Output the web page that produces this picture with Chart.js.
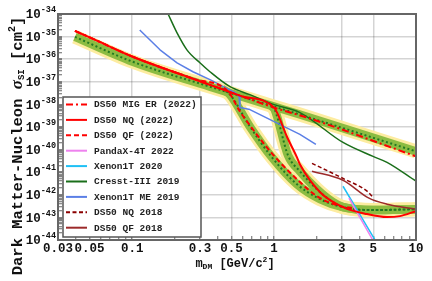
<!DOCTYPE html>
<html><head><meta charset="utf-8">
<script src="https://cdn.jsdelivr.net/npm/chart.js@4.4.1/dist/chart.umd.min.js"></script>
<style>html,body{margin:0;padding:0;background:#fff;overflow:hidden}#wrap{width:432px;height:281px}</style>
</head><body><div id="wrap"><canvas id="c" width="432" height="281"></canvas></div>
<script>
// ---------- axis ticks ----------
const xTickValues = [0.03, 0.05, 0.1, 0.3, 0.5, 1, 3, 5, 10];
const xTickLabels = ['0.03', '0.05', '0.1', '0.3', '0.5', '1', '3', '5', '10'];
const xMinorTicks = [0.04, 0.06, 0.07, 0.08, 0.09, 0.2, 0.4, 0.6, 0.7, 0.8, 0.9, 2, 4, 6, 7, 8, 9];
const yTickExponents = [-44, -43, -42, -41, -40, -39, -38, -37, -36, -35, -34];
const yMinorMultipliers = [2, 3, 4, 5, 6, 7, 8, 9];

// ---------- limit curves (mass GeV/c^2, sigma cm^2) ----------
const migEr22Mass  = [0.0395, 0.053, 0.101, 0.268, 0.575, 1.0, 1.79, 10];
const migEr22Sigma = [1.78e-35, 7.9e-36, 1.28e-36, 1.37e-37, 2.44e-38, 7.2e-39, 2.37e-39, 5.0e-41];

const nq22Mass  = [0.0395, 0.053, 0.101, 0.268, 0.575, 1.0, 1.05, 1.23, 1.45, 1.52, 2.11, 3.06, 4.52, 6.25, 7.71, 10];
const nq22Sigma = [1.78e-35, 7.9e-36, 1.28e-36, 1.37e-37, 2.44e-38, 7.2e-39, 4.35e-39, 3.81e-40, 4.53e-41, 2.23e-41, 1.3e-42, 2.84e-43, 1.4e-43, 1.03e-43, 1.14e-43, 1.9e-43];

const qf22Mass  = [0.0395, 0.053, 0.101, 0.268, 0.473, 0.575, 0.71, 0.89, 1.10, 1.45, 2.0, 2.91, 3.6];
const qf22Sigma = [1.78e-35, 7.9e-36, 1.28e-36, 1.37e-37, 3.77e-38, 4.82e-39, 7.76e-40, 1.25e-40, 2.73e-41, 4.86e-42, 8.67e-43, 3.15e-43, 2.57e-43];

const pandax22Mass  = [3.37, 5.14];
const pandax22Sigma = [7.08e-43, 6.7e-45];

const xenon20Mass  = [3.06, 5.4];
const xenon20Sigma = [2.39e-42, 6.0e-45];

const cresst19Mass  = [0.179, 0.207, 0.243, 0.30, 0.353, 0.489, 0.675, 1.0, 1.52, 3.06, 4.98, 6.25, 10];
const cresst19Sigma = [1.0e-34, 1.46e-35, 2.6e-36, 6.93e-37, 2.79e-37, 6.08e-38, 2.7e-38, 9.8e-39, 4.36e-39, 2.07e-40, 5.0e-41, 2.73e-41, 3.98e-42];

const xenonMe19Mass  = [0.113, 0.157, 0.207, 0.268, 0.353, 0.53, 0.566, 0.575, 0.675, 1.52, 1.97];
const xenonMe19Sigma = [1.97e-35, 2.6e-36, 6.93e-37, 2.79e-37, 1.24e-37, 3.31e-38, 2.21e-38, 7.23e-39, 5.9e-39, 4.68e-40, 1.69e-40];

const nq18Mass  = [1.85, 3.06, 4.52, 4.9];
const nq18Sigma = [2.47e-41, 5.3e-42, 1.45e-42, 8.67e-43];

const qf18Mass  = [1.85, 3.06, 4.66, 6.25, 10];
const qf18Sigma = [1.1e-41, 4.4e-42, 7.08e-43, 3.85e-43, 2.32e-43];

// ---------- expected sensitivity medians (bands drawn around them) ----------
const expMigMass  = [0.0395, 0.101, 0.353, 1.0, 1.52, 10];
const expMigSigma = [9.7e-36, 7.67e-37, 6.08e-38, 8.0e-39, 3.56e-39, 8.3e-41];

const expQfMass  = [0.429, 0.489, 0.675, 0.966, 1.45, 2.11, 3.06, 4.98, 10];
const expQfSigma = [4.97e-38, 2.7e-38, 1.05e-39, 4.53e-41, 2.93e-42, 6.4e-43, 2.84e-43, 2.1e-43, 2.32e-43];

const expNqMass  = [0.97, 1.01, 1.254, 1.52, 2.0, 2.6, 3.06, 4.98, 10];
const expNqSigma = [8.0e-39, 5.9e-39, 5.55e-41, 1.1e-41, 1.77e-42, 4.72e-43, 2.84e-43, 2.1e-43, 2.32e-43];

// ---------- build ----------
const pts = (m, s) => m.map((x, i) => ({ x: x, y: s[i] }));
const MONO = '"Liberation Mono", "DejaVu Sans Mono", monospace';
const YELLOW = 'rgb(253,236,160)', GREEN = 'rgb(140,188,66)', MED = 'rgb(34,122,34)';

function line(label, m, s, color, width, dash, order, legendRow, tension) {
  return {
    label: label, data: pts(m, s), borderColor: color, backgroundColor: color,
    borderWidth: width, borderDash: dash || [], pointRadius: 0, fill: false,
    order: order, legendRow: legendRow,
    tension: tension === undefined ? 0 : tension,
    cubicInterpolationMode: tension === undefined ? 'monotone' : 'default',
    borderJoinStyle: 'round'
  };
}
const bands = [
  [expMigMass, expMigSigma], [expQfMass, expQfSigma], [expNqMass, expNqSigma]
];
const datasets = [
  line('DS50 MIG ER (2022)', migEr22Mass, migEr22Sigma, '#ff0000', 2, [7, 3, 2, 3], 3, 0),
  line('DS50 NQ (2022)', nq22Mass, nq22Sigma, '#ff0000', 2, [], 1, 1),
  line('DS50 QF (2022)', qf22Mass, qf22Sigma, '#ff0000', 2, [5, 3], 2, 2),
  line('PandaX-4T 2022', pandax22Mass, pandax22Sigma, '#ee82ee', 1.5, [], 4, 3),
  line('Xenon1T 2020', xenon20Mass, xenon20Sigma, '#1ec0f5', 1.5, [], 4, 4),
  line('Cresst-III 2019', cresst19Mass, cresst19Sigma, '#1a6e1a', 1.5, [], 4, 5),
  line('Xenon1T ME 2019', xenonMe19Mass, xenonMe19Sigma, '#5b7fe6', 1.5, [], 4, 6, 0),
  line('DS50 NQ 2018', nq18Mass, nq18Sigma, '#8b0000', 1.5, [4, 2.5], 4, 7),
  line('DS50 QF 2018', qf18Mass, qf18Sigma, '#9c2a2a', 1.5, [], 4, 8)
];
bands.forEach((b, i) => {
  datasets.push(line('median ' + i, b[0], b[1], MED, 2, [2, 2.5], 10));
  datasets.push(line('1 sigma ' + i, b[0], b[1], GREEN, 8.5, [], 20));
  datasets.push(line('2 sigma ' + i, b[0], b[1], YELLOW, 14, [], 30));
});

const isLabeledX = v => xTickValues.some(t => Math.abs(v / t - 1) < 1e-6);

function drawRich(ctx, parts, cx, cy) {
  let total = 0;
  parts.forEach(p => { ctx.font = p.font; p.w = ctx.measureText(p.t).width; total += p.w; });
  let x = cx - total / 2;
  ctx.textAlign = 'left'; ctx.textBaseline = 'middle';
  parts.forEach(p => { ctx.font = p.font; ctx.fillText(p.t, x, cy + (p.dy || 0)); x += p.w; });
}

const decor = {
  id: 'decor',
  afterDraw(chart) {
    const ctx = chart.ctx, a = chart.chartArea, ys = chart.scales.y;
    ctx.save();
    // frame
    ctx.strokeStyle = '#666'; ctx.lineWidth = 2; ctx.setLineDash([]);
    ctx.strokeRect(a.left, a.top, a.right - a.left, a.bottom - a.top);
    // y tick labels 10^n
    ctx.fillStyle = '#111'; ctx.textAlign = 'left'; ctx.textBaseline = 'middle';
    yTickExponents.forEach(e => {
      const py = ys.getPixelForValue(Math.pow(10, e));
      const sup = String(e);
      ctx.font = 'bold 8.5px ' + MONO;
      const w2 = ctx.measureText(sup).width;
      const right = a.left - 2;
      ctx.fillText(sup, right - w2, py - 4);
      ctx.font = 'bold 12.5px ' + MONO;
      const w1 = ctx.measureText('10').width;
      ctx.fillText('10', right - w2 - w1, py + 1);
    });
    // y title
    ctx.save();
    ctx.translate(18, 146); ctx.rotate(-Math.PI / 2);
    drawRich(ctx, [
      { t: 'Dark Matter-Nucleon ', font: 'bold 15.5px ' + MONO },
      { t: 'σ', font: 'bold italic 17px "Liberation Serif", serif' },
      { t: 'SI', font: 'bold 9px ' + MONO, dy: 4 },
      { t: ' [cm', font: 'bold 15.5px ' + MONO },
      { t: '2', font: 'bold 10px ' + MONO, dy: -6 },
      { t: ']', font: 'bold 15.5px ' + MONO }
    ], 0, 0);
    ctx.restore();
    // x title
    drawRich(ctx, [
      { t: 'm', font: 'bold 12px ' + MONO },
      { t: 'DM', font: 'bold 8px ' + MONO, dy: 3 },
      { t: ' [GeV/c', font: 'bold 12px ' + MONO },
      { t: '2', font: 'bold 8px ' + MONO, dy: -4 },
      { t: ']', font: 'bold 12px ' + MONO }
    ], 235, 264);
    // legend
    const L = { x: 63, y: 97, w: 138, h: 140 };
    ctx.fillStyle = '#fff'; ctx.fillRect(L.x, L.y, L.w, L.h);
    ctx.strokeStyle = '#555'; ctx.lineWidth = 1.5; ctx.strokeRect(L.x, L.y, L.w, L.h);
    const entries = chart.data.datasets.filter(d => d.legendRow !== undefined)
      .sort((p, q) => p.legendRow - q.legendRow);
    entries.forEach((d, i) => {
      const cy = 104.5 + i * 15.4;
      ctx.strokeStyle = d.borderColor; ctx.lineWidth = 2;
      ctx.setLineDash(d.borderDash || []);
      ctx.beginPath(); ctx.moveTo(66, cy); ctx.lineTo(87, cy); ctx.stroke();
      ctx.setLineDash([]);
      ctx.fillStyle = '#222'; ctx.font = 'bold 9.5px ' + MONO;
      ctx.textAlign = 'left'; ctx.textBaseline = 'middle';
      ctx.fillText(d.label, 94, cy + 0.5);
    });
    ctx.restore();
  }
};

new Chart(document.getElementById('c'), {
  type: 'line',
  data: { datasets: datasets },
  plugins: [decor],
  options: {
    responsive: false, animation: false, devicePixelRatio: 1,
    layout: { padding: { top: 14, right: 16, left: 0, bottom: 0 } },
    plugins: { legend: { display: false }, tooltip: { enabled: false } },
    scales: {
      x: {
        type: 'logarithmic', min: 0.03, max: 10,
        afterBuildTicks: sc => { sc.ticks = xTickValues.concat(xMinorTicks).sort((p, q) => p - q).map(v => ({ value: v })); },
        afterFit: sc => { sc.height = 41; },
        border: { display: false },
        grid: {
          color: c => (c.tick && isLabeledX(c.tick.value) && c.tick.value > 0.031 && c.tick.value < 9.9) ? 'rgba(0,0,0,0.17)' : 'rgba(0,0,0,0)',
          lineWidth: 1.5, drawTicks: true, tickLength: -4, tickColor: '#666', tickWidth: 1
        },
        ticks: {
          autoSkip: false, maxRotation: 0, padding: 5, color: '#111',
          font: { family: MONO, size: 12.5, weight: 'bold' },
          callback: v => { const i = xTickValues.findIndex(t => Math.abs(v / t - 1) < 1e-6); return i >= 0 ? xTickLabels[i] : ''; }
        }
      },
      y: {
        type: 'logarithmic', min: 1e-44, max: 1e-34,
        afterBuildTicks: sc => {
          const t = [];
          yTickExponents.forEach(e => {
            t.push({ value: Math.pow(10, e) });
            if (e < -34) yMinorMultipliers.forEach(k => t.push({ value: k * Math.pow(10, e) }));
          });
          sc.ticks = t;
        },
        afterFit: sc => { sc.width = 58; },
        border: { display: false },
        grid: {
          color: c => {
            if (!c.tick) return 'rgba(0,0,0,0)';
            const l = Math.log10(c.tick.value);
            return Math.abs(l - Math.round(l)) < 1e-6 ? 'rgba(0,0,0,0.17)' : 'rgba(0,0,0,0)';
          },
          lineWidth: 1.5, drawTicks: true, tickLength: -4, tickColor: '#666', tickWidth: 1
        },
        ticks: { display: false }
      }
    }
  }
});
</script>
</body></html>
